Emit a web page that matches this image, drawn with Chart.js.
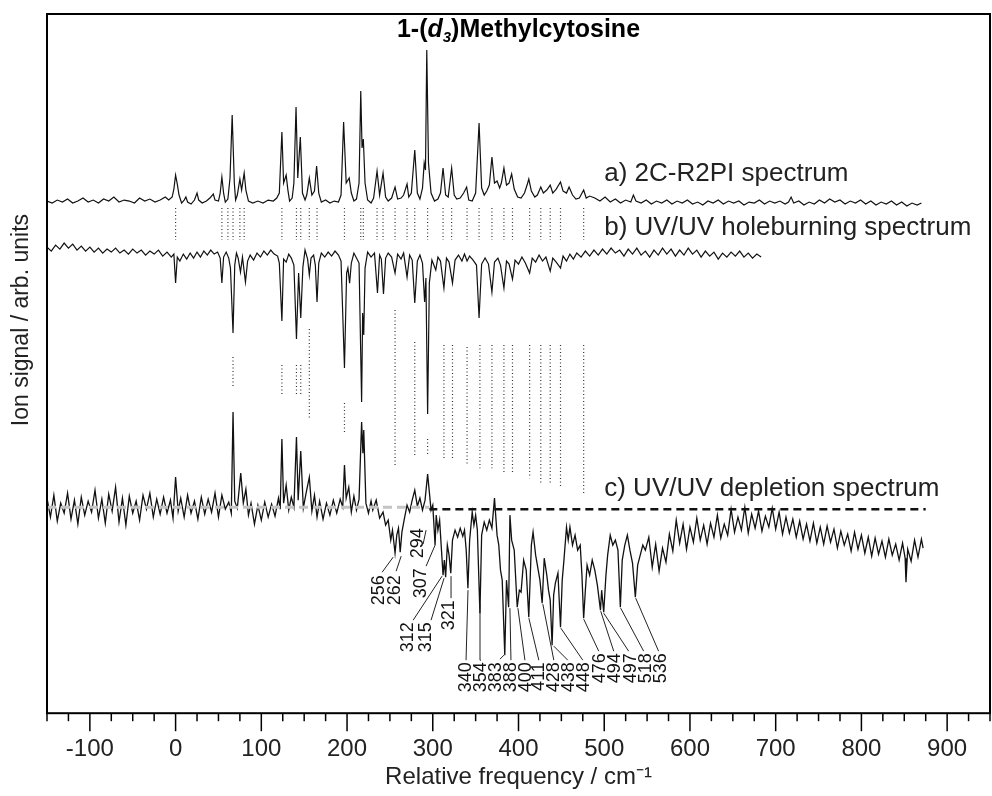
<!DOCTYPE html>
<html>
<head>
<meta charset="utf-8">
<script src="https://cdn.jsdelivr.net/npm/chart.js@4.4.1/dist/chart.umd.min.js"></script>
<style>
  html, body { margin: 0; padding: 0; background: #fff; }
</style>
</head>
<body>
<canvas id="spec" width="992" height="796"></canvas>
<script>
// spectra, [wavenumber, signal]; each trace sits at its own offset
const traceA = [
  [-150,51.2],[-144,51.0],[-138,51.3],[-132,51.1],[-126,51.4],[-120,51.0],[-114,51.2],[-108,51.5],[-102,51.1],[-96,51.3],
  [-90,51.0],[-84,51.4],[-78,51.2],[-72,51.6],[-66,51.1],[-60,51.3],[-54,51.2],[-48,51.0],[-42,51.5],[-36,51.2],
  [-30,51.4],[-24,51.1],[-18,51.3],[-12,51.6],[-8,51.3],[-4,51.6],[-2,52.4],[0,53.8],[2,52.9],[4,51.8],
  [7,51.0],[10,51.3],[12,51.6],[14,51.1],[18,50.9],[22,51.3],[25,52.0],[27,51.3],[31,51.0],[36,51.2],
  [40,51.5],[44,51.9],[46,51.3],[50,51.2],[52,52.0],[54,53.6],[56,52.0],[58,51.1],[61,51.4],[63.5,53.5],
  [66,59.8],[68.5,53.0],[70,51.3],[72,51.8],[75,53.4],[77,52.3],[80,54.0],[82,52.3],[85,51.2],[90,51.0],
  [96,51.2],[102,51.0],[108,51.3],[114,51.2],[118,51.5],[121,52.0],[124,58.1],[126,53.0],[129,53.8],[131,52.3],
  [133,51.2],[136,51.5],[138,53.0],[140.5,60.6],[142.5,53.5],[145.5,57.6],[148,52.0],[151,51.3],[153,51.8],[156,53.5],
  [159,51.8],[162,52.2],[164.5,54.7],[167,52.0],[170,51.1],[175,51.3],[180,51.0],[185,51.2],[190,51.1],[193,51.8],
  [196,59.1],[199,53.0],[202.5,53.5],[205,52.0],[208,51.2],[211,51.4],[214,53.0],[216,62.2],[217.5,56.5],[219,57.4],
  [221,53.0],[224,51.3],[228,51.0],[231,51.5],[235,54.2],[238,51.8],[242,54.0],[245,51.6],[248,51.2],[252,51.5],
  [256,52.6],[259,51.4],[263,51.5],[266,51.8],[270,52.9],[272,51.6],[275,52.0],[279,56.3],[282,52.0],[285,51.4],
  [288,52.5],[290,55.0],[291.5,54.3],[293,66.3],[295,55.0],[298,52.0],[302,51.2],[306,51.4],[309,52.0],[312,54.5],
  [315,51.8],[318,51.6],[322,54.5],[325,51.8],[328,51.4],[332,51.5],[336,52.0],[339.5,52.6],[342,51.3],[346,51.2],
  [350,52.0],[354,59.0],[357,52.5],[360,51.8],[363,52.2],[366,52.8],[369,55.6],[372,53.0],[375,53.2],[378,52.5],
  [380,53.0],[383,54.5],[386,52.8],[389,53.0],[392,53.9],[395,52.4],[399,51.6],[403,51.5],[407,52.0],[410,52.8],
  [412,53.4],[415,52.2],[419,51.6],[422,51.8],[426,52.6],[429,52.0],[433,52.3],[437,52.8],[440,52.0],[444,52.4],
  [449,53.1],[452,52.2],[456,52.0],[459,52.6],[463,51.8],[467,51.4],[471,51.5],[476,52.3],[479,51.5],[483,51.7],
  [489,51.5],[495,51.2],[501,51.6],[507,51.1],[513,51.4],[519,51.0],[525,51.3],[531,51.1],[534,51.8],[537,51.2],
  [543,51.0],[549,51.3],[555,50.9],[561,51.2],[567,51.0],[573,51.3],[579,50.9],[585,51.2],[591,51.0],[597,51.3],
  [603,50.9],[609,51.1],[615,50.8],[621,51.2],[627,51.0],[633,51.3],[639,50.9],[645,51.2],[651,51.0],[657,51.2],
  [663,50.8],[669,51.1],[675,51.0],[681,51.3],[687,50.9],[693,51.2],[699,51.0],[705,51.2],[711,50.9],[715,51.1],
  [718,51.6],[721,51.0],[727,51.2],[733,50.8],[739,51.1],[745,50.9],[751,51.3],[757,51.0],[763,51.4],[769,51.1],
  [775,51.3],[781,50.9],[787,51.2],[793,51.0],[799,51.3],[805,50.9],[811,51.2],[817,50.8],[823,51.1],[829,50.9],
  [835,51.2],[841,50.8],[847,51.1],[853,50.7],[859,51.0],[865,50.8],[870,51.0]
];

const traceB = [
  [-150,46.6],[-145,46.2],[-140,46.8],[-135,46.4],[-130,47.0],[-125,46.5],[-120,46.9],[-115,46.3],[-110,46.7],[-105,46.2],
  [-100,46.6],[-95,46.1],[-90,46.5],[-85,46.0],[-80,46.4],[-75,46.1],[-70,46.5],[-65,46.0],[-60,46.3],[-55,45.9],
  [-50,46.4],[-45,46.0],[-40,46.3],[-35,45.8],[-30,46.2],[-25,45.9],[-20,46.3],[-15,45.7],[-10,46.1],[-5,45.6],
  [-2,45.9],[0,43.0],[2,45.6],[5,45.2],[9,45.9],[13,45.4],[17,46.0],[21,45.5],[25,46.1],[29,45.6],
  [33,46.2],[37,45.8],[41,46.3],[45,45.9],[49,46.1],[52,45.5],[54,43.0],[56,45.6],[59,46.1],[62,45.5],
  [64,44.5],[67,38.0],[69,44.8],[71,46.0],[73,45.5],[75.7,44.1],[78,45.6],[81.5,43.1],[84,45.2],[87,45.8],
  [91,45.3],[95,46.0],[99,45.6],[103,46.2],[107,45.8],[111,46.3],[115,45.9],[119,45.7],[121,45.0],[124,39.2],
  [126,45.4],[129,45.1],[132,45.9],[135,45.5],[138,44.8],[141,37.4],[143.5,44.0],[146,39.5],[148.5,44.6],[151,46.3],
  [154,45.4],[156,43.8],[158,45.5],[161,45.8],[163,44.8],[165,41.1],[167,45.0],[170,46.0],[174,45.6],[178,46.1],
  [182,45.7],[186,46.2],[190,45.8],[193,45.2],[197,34.5],[199.5,44.0],[201,44.5],[203,43.0],[205,45.0],[208,46.0],
  [211,45.5],[214,45.0],[217,31.1],[218.2,40.0],[219.5,37.8],[221,44.5],[224,46.1],[228,45.6],[232,46.0],[235.5,42.0],
  [238,45.8],[240,45.4],[242.5,41.9],[245,45.5],[248,46.0],[252,45.6],[256,44.0],[259,45.9],[263,45.4],[266,46.0],
  [270,43.6],[273,45.8],[276,45.3],[279,41.0],[282,45.2],[285,45.8],[288,45.0],[290.5,41.1],[292,43.5],[294,29.9],
  [296,43.0],[299,45.3],[303.5,44.3],[306,45.6],[309,45.2],[313,42.5],[316,45.5],[319,45.1],[323,43.0],[326,45.3],
  [330,45.8],[334,45.2],[337,45.9],[340,45.2],[343,45.7],[347,45.3],[351,44.8],[354,39.5],[357,44.9],[361,45.5],
  [365,44.9],[369,42.1],[372,45.1],[376,45.5],[379,44.8],[383,42.5],[386,45.2],[389,44.9],[393,43.4],[396,45.3],
  [400,44.9],[404,45.6],[408,45.0],[413,44.0],[416,45.5],[420,45.1],[424,45.8],[428,45.2],[432,45.6],[437,44.2],
  [440,45.5],[444,45.1],[449,44.5],[452,45.7],[456,45.2],[460,45.9],[464,45.4],[468,46.0],[473,45.6],[478,46.2],
  [483,45.7],[488,46.3],[493,45.8],[498,46.4],[503,45.9],[508,46.5],[513,46.0],[518,46.3],[523,45.7],[528,46.4],
  [533,45.9],[538,46.5],[543,45.8],[548,46.2],[553,45.6],[558,46.3],[563,45.8],[568,46.5],[573,45.9],[578,46.4],
  [583,45.7],[588,46.3],[593,45.8],[598,46.5],[603,45.9],[608,46.3],[613,45.6],[618,46.2],[623,45.7],[628,46.1],
  [633,45.4],[638,46.0],[643,45.6],[648,46.1],[653,45.7],[658,46.2],[663,45.6],[668,46.0],[673,45.5],[678,45.9],
  [683,45.6]
];

const traceC = [
  [-150,21.5],[-146,19.6],[-142,21.8],[-138,19.2],[-134,21.0],[-130,20.0],[-126,22.0],[-122,19.4],[-118,21.3],[-114,18.9],
  [-110,21.6],[-106,19.8],[-102,21.2],[-98,20.1],[-94,22.3],[-90,19.5],[-86,21.4],[-82,19.0],[-78,21.9],[-74,20.2],
  [-70,22.6],[-66,19.1],[-62,21.5],[-58,18.8],[-54,21.7],[-50,20.0],[-46,21.2],[-42,19.3],[-38,21.8],[-34,20.4],
  [-30,22.0],[-26,19.6],[-22,21.4],[-18,19.9],[-14,21.6],[-10,20.0],[-6,21.3],[-3,19.5],[0,23.6],[3,20.2],
  [6,21.5],[10,19.6],[14,21.8],[18,20.0],[22,21.2],[26,19.4],[30,21.6],[34,19.9],[38,21.4],[42,20.1],
  [46,22.0],[50,19.6],[54,21.8],[58,20.4],[62,21.1],[65,20.0],[67,30.1],[69,21.2],[72,20.5],[76,24.0],
  [79,21.0],[82,22.4],[85,19.8],[88,21.0],[92,18.9],[96,20.8],[100,19.3],[104,21.1],[108,19.6],[112,20.9],
  [116,19.7],[120,21.5],[122,20.4],[124,27.4],[126,21.0],[129,22.8],[132,20.3],[135,21.6],[138,20.6],[141,27.6],
  [143,21.3],[146,26.2],[149,20.5],[152,21.9],[156,23.6],[159,20.2],[162,21.8],[165,19.6],[168,21.2],[172,19.4],
  [176,21.0],[180,19.8],[184,21.3],[188,20.0],[192,21.4],[195,20.6],[197,24.8],[199,21.5],[202,22.6],[205,20.1],
  [208,21.7],[211,20.3],[214,21.4],[217,29.1],[218.5,26.0],[219.5,28.3],[222,21.0],[225,20.0],[228,21.2],[230,20.3],
  [234,21.3],[238,19.5],[242,20.1],[245,18.8],[248,19.3],[251,17.3],[253,18.3],[256,16.0],[258,17.8],[260,18.5],
  [262,16.1],[264,18.1],[267,19.5],[270,20.8],[273,20.1],[276,21.3],[279,22.3],[282,20.7],[285,21.5],[288,20.3],
  [291,21.3],[294,23.9],[296,22.1],[298,20.3],[300,20.8],[302.7,16.8],[304,19.8],[306,18.3],[308,19.3],[310,16.5],
  [312,13.8],[313.5,15.3],[315,13.6],[317,16.8],[319,15.8],[321,14.0],[323,17.3],[326,18.3],[329,17.6],[332,18.5],
  [335,17.7],[337,18.3],[339,16.3],[341,12.5],[343,17.3],[346,20.1],[348,18.8],[350,19.8],[352,18.3],[355,10.0],
  [357,17.8],[360,19.1],[363,18.3],[366,19.3],[369,18.5],[372,21.5],[375,17.8],[377,16.8],[379,14.3],[381,13.3],
  [384,5.8],[386,13.3],[388.5,10.6],[390,19.8],[392,17.3],[395,16.3],[398.5,10.6],[401,12.3],[403,12.1],[406,15.3],
  [409,14.3],[412,9.6],[415,16.8],[417,18.1],[420,15.8],[423,14.3],[425,13.3],[427.6,11.0],[430,15.5],[433,13.8],
  [435,12.3],[437,11.3],[439.2,6.8],[441,11.8],[443,13.0],[446,14.0],[449,8.6],[451,13.3],[453,15.3],[456,18.6],
  [458,17.3],[460,18.6],[463,16.8],[466,17.8],[469,16.3],[472,16.8],[474,13.8],[476,9.5],[478,12.3],[480,14.8],
  [483,13.8],[486,15.3],[489,14.3],[492,12.8],[495.6,10.3],[497,12.3],[499.4,10.1],[502,13.8],[504,15.8],[507,17.8],
  [510,16.8],[513,17.3],[516,16.3],[518.8,10.6],[521,15.3],[524,16.8],[527,17.8],[530,16.3],[533,15.0],[536.3,11.6],
  [539,14.8],[542,15.8],[545,16.8],[548,16.3],[552,17.6],[556,14.6],[560,16.9],[564,14.2],[568,16.5],[572,15.1],
  [576,17.9],[580,16.2],[584,19.3],[588,17.0],[592,18.9],[596,16.4],[600,18.6],[604,17.1],[608,19.5],[612,17.3],
  [616,18.8],[620,16.9],[624,19.0],[628,17.6],[632,19.8],[636,17.5],[640,18.9],[644,17.8],[648,20.4],[652,18.1],
  [656,19.6],[660,18.3],[664,20.6],[668,18.0],[672,19.9],[676,18.5],[680,20.2],[684,18.2],[688,19.7],[692,18.6],
  [696,20.5],[700,18.4],[704,20.1],[708,17.9],[712,19.6],[716,18.0],[720,19.4],[724,17.6],[728,19.2],[732,17.4],
  [736,18.9],[740,17.2],[744,19.0],[748,17.0],[752,18.6],[756,16.9],[760,18.7],[764,17.1],[768,18.4],[772,16.5],
  [776,18.2],[780,16.8],[784,17.9],[788,16.2],[792,18.1],[796,16.4],[800,17.8],[804,16.0],[808,17.6],[812,15.7],
  [816,17.5],[820,15.9],[824,17.2],[828,15.6],[832,17.4],[836,15.8],[840,16.9],[844,15.3],[848,17.0],[851,15.5],
  [852,13.1],[854,16.4],[858,15.2],[862,17.3],[866,15.6],[870,17.4],[872,16.5]
];

// zero lines under the depletion trace
const zeroGrey = [[-150,20.6],[296,20.6]];
const zeroBlack = [[296,20.4],[875,20.4]];

// dotted marks between a) and b): common span
const upperMarks = [0,54,61,67,75,80,124,141,146,156,165,197,216,219,235,242,256,270,279,294,312,322,340,354,369,383,393,413,426,437,449,476];
const upperTop = 50.5, upperBottom = 47.3;

// dotted marks between b) and c): [position, top, bottom]
const lowerMarks = [
  [67,35.6,32.6],[124,34.8,31.8],[141,34.8,31.8],[146,34.8,31.8],[156,38.4,29.4],[197,31.0,27.9],
  [256,40.3,24.6],[279,37.1,25.7],[294,27.4,25.8],[313,36.8,25.4],[323,36.8,25.4],[340,36.6,24.8],
  [355,36.8,24.5],[369,36.8,24.5],[383,36.8,24.0],[393,36.8,24.0],[413,36.8,23.5],[426,36.8,23.0],
  [437,36.8,23.0],[449,36.8,22.6],[476,36.8,22.0]
];

// peak labels of c): [text, textX, textTop, lineFromX, lineFromY, tipX, tipY]
const peakLabels = [
  ['256',237.5,13.8,241.0,14.1,253.8,15.6],
  ['262',255.8,13.8,257.3,14.2,263.1,15.7],
  ['294',282.9,18.5,288.7,16.9,292.2,18.3],
  ['307',286.4,14.5,292.2,14.7,302.7,16.8],
  ['312',271.2,9.1,277.1,9.3,310.8,13.7],
  ['315',291.9,9.1,298.0,9.3,313.2,13.5],
  ['321',319.0,11.3,321.3,11.5,321.3,13.7],
  ['340',338.4,5.1,338.8,5.3,341.1,12.3],
  ['354',355.9,5.1,356.2,5.3,355.1,11.0],
  ['383',374.3,5.1,378.3,5.4,383.0,5.8],
  ['388',390.8,5.1,391.2,5.3,390.0,10.5],
  ['400',408.3,5.1,407.5,5.3,399.3,10.5],
  ['411',423.7,5.1,423.7,5.3,412.1,9.5],
  ['428',441.2,5.1,441.2,5.3,428.4,10.9],
  ['438',458.7,5.1,457.5,5.3,441.2,6.7],
  ['448',476.1,5.1,475.0,5.3,449.4,8.5],
  ['476',495.6,6.0,493.6,6.2,476.1,9.4],
  ['494',513.0,6.0,511.1,6.2,495.9,10.2],
  ['497',530.9,6.0,528.5,6.2,499.4,10.0],
  ['518',548.3,6.0,546.0,6.2,519.2,10.5],
  ['536',565.8,6.0,563.4,6.2,536.7,11.5]
];

// trace captions: [text, x, baseline y]
const captions = [
  ['a) 2C-R2PI spectrum', 500, 53.2],
  ['b) UV/UV holeburning spectrum', 500, 47.8],
  ['c) UV/UV depletion spectrum', 500, 21.7]
];

const FONT = '"Liberation Sans", Arial, Helvetica, sans-serif';

let upperPts = [];
upperMarks.forEach(p => { upperPts.push([p, upperTop], [p, upperBottom], [p, null]); });
let lowerPts = [];
lowerMarks.forEach(m => { lowerPts.push([m[0], m[1]], [m[0], m[2]], [m[0], null]); });
let leaderPts = [];
peakLabels.forEach(l => { leaderPts.push([l[3], l[4]], [l[5], l[6]], [l[5], null]); });

function line(data, color, width, dash) {
  return {
    data: data,
    borderColor: color,
    borderWidth: width,
    borderDash: dash || [],
    pointRadius: 0,
    fill: false,
    spanGaps: false,
    tension: 0
  };
}

const overlay = {
  id: 'overlay',
  afterDraw(chart) {
    const ctx = chart.ctx, a = chart.chartArea;
    const xs = chart.scales.x, ys = chart.scales.y;
    ctx.save();

    // frame
    ctx.strokeStyle = '#000';
    ctx.lineWidth = 2;
    ctx.strokeRect(a.left, a.top, a.right - a.left, a.bottom - a.top);

    // major/minor ticks below the axis
    ctx.lineWidth = 1.5;
    xs.ticks.forEach(t => {
      const px = xs.getPixelForValue(t.value);
      const len = t.value % 100 === 0 ? 18 : 8;
      ctx.beginPath();
      ctx.moveTo(px, a.bottom);
      ctx.lineTo(px, a.bottom + len);
      ctx.stroke();
    });

    // title with italic d and subscript 3
    const parts = [
      ['1-(', 'bold 25px ' + FONT, 0],
      ['d', 'italic bold 25px ' + FONT, 0],
      ['3', 'italic bold 15px ' + FONT, 5],
      [')Methylcytosine', 'bold 25px ' + FONT, 0]
    ];
    let w = 0;
    parts.forEach(p => { ctx.font = p[1]; w += ctx.measureText(p[0]).width; });
    let tx = (a.left + a.right) / 2 - w / 2;
    const ty = a.top + 23;
    ctx.fillStyle = '#000';
    ctx.textBaseline = 'alphabetic';
    ctx.textAlign = 'left';
    parts.forEach(p => {
      ctx.font = p[1];
      ctx.fillText(p[0], tx, ty + p[2]);
      tx += ctx.measureText(p[0]).width;
    });

    // captions
    ctx.font = '26px ' + FONT;
    ctx.fillStyle = '#222';
    captions.forEach(c => {
      ctx.fillText(c[0], xs.getPixelForValue(c[1]), ys.getPixelForValue(c[2]));
    });

    // rotated peak labels
    ctx.font = '18px ' + FONT;
    ctx.fillStyle = '#111';
    ctx.textAlign = 'right';
    ctx.textBaseline = 'middle';
    peakLabels.forEach(l => {
      ctx.save();
      ctx.translate(xs.getPixelForValue(l[1]), ys.getPixelForValue(l[2]));
      ctx.rotate(-Math.PI / 2);
      ctx.fillText(l[0], 0, 0);
      ctx.restore();
    });

    // y axis title
    ctx.save();
    ctx.font = '23px ' + FONT;
    ctx.fillStyle = '#222';
    ctx.textAlign = 'center';
    ctx.textBaseline = 'middle';
    ctx.translate(22, ys.getPixelForValue(39.3));
    ctx.rotate(-Math.PI / 2);
    ctx.fillText('Ion signal / arb. units', 0, 0);
    ctx.restore();

    ctx.restore();
  }
};

new Chart(document.getElementById('spec'), {
  type: 'line',
  data: {
    datasets: [
      line(zeroBlack, '#111', 2.5, [8, 5]),
      line(zeroGrey, '#c4c4c4', 3, [9, 5]),
      line(leaderPts, '#222', 1),
      line(traceA, '#111', 1.2),
      line(traceB, '#111', 1.2),
      line(traceC, '#111', 1.3),
      line(upperPts, '#333', 1.2, [1, 2.5]),
      line(lowerPts, '#333', 1.2, [1, 2.5])
    ]
  },
  options: {
    responsive: false,
    animation: false,
    events: [],
    layout: { padding: { left: 47, right: 2, top: 14, bottom: 7 } },
    plugins: { legend: { display: false }, tooltip: { enabled: false } },
    scales: {
      x: {
        type: 'linear',
        min: -150,
        max: 950,
        grid: { display: false, drawTicks: true, tickLength: 21 },
        border: { display: false },
        ticks: {
          stepSize: 25,
          autoSkip: false,
          maxRotation: 0,
          padding: 1,
          color: '#222',
          font: { family: FONT, size: 24 },
          callback: v => (v % 100 === 0 ? String(v) : '')
        },
        title: {
          display: true,
          text: 'Relative frequency / cm\u207B\u00B9',
          color: '#222',
          font: { family: FONT, size: 24, lineHeight: 1.0 },
          padding: { top: 0, bottom: 0 }
        }
      },
      y: {
        type: 'linear',
        min: 0,
        max: 69.9,
        display: false
      }
    }
  },
  plugins: [overlay]
});
</script>
</body>
</html>
